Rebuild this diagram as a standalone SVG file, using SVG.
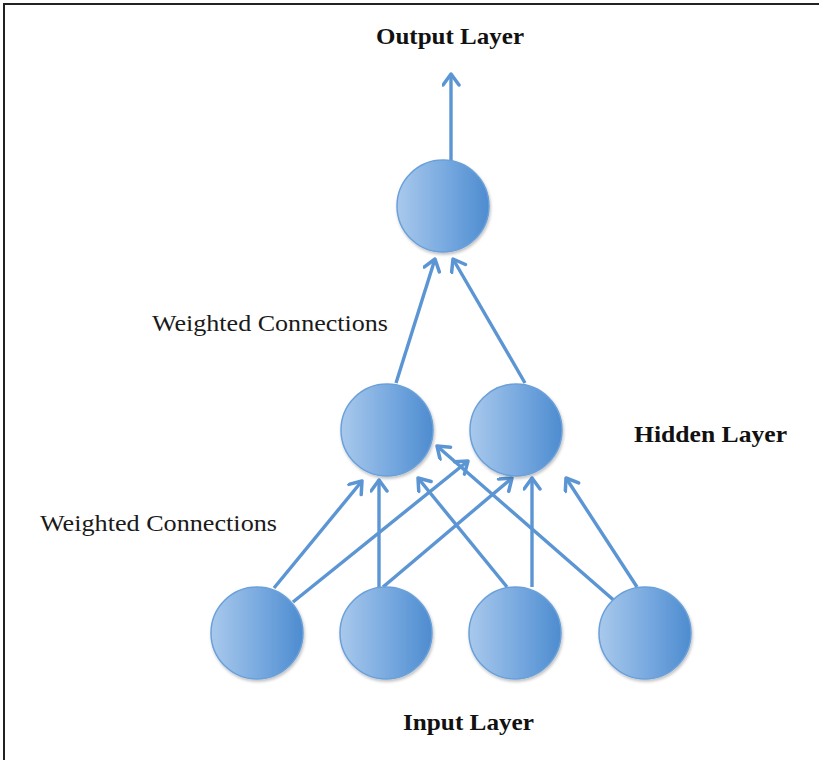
<svg xmlns="http://www.w3.org/2000/svg" width="819" height="760" viewBox="0 0 819 760">
  <defs>
    <linearGradient id="nodeFill" x1="0" y1="0" x2="1" y2="0">
      <stop offset="0" stop-color="#a9c9ec"/>
      <stop offset="0.55" stop-color="#76a8df"/>
      <stop offset="1" stop-color="#4d8ccf"/>
    </linearGradient>
    <filter id="soft" x="-20%" y="-20%" width="140%" height="140%">
      <feDropShadow dx="1" dy="2" stdDeviation="1.5" flood-color="#000" flood-opacity="0.25"/>
    </filter>
    <marker id="head" markerUnits="userSpaceOnUse" markerWidth="22" markerHeight="22" refX="13" refY="9" orient="auto">
      <path d="M2,1 L13,9 L2,17" fill="none" stroke="#5b95d3" stroke-width="3.5" stroke-linecap="round" stroke-linejoin="round"/>
    </marker>
    <style>
      .node { fill: url(#nodeFill); stroke: #6ba0da; stroke-width: 1.5; filter: url(#soft); }
      .edge { stroke: #5b95d3; stroke-width: 3.4; fill: none; marker-end: url(#head); }
      .title { font-family: "Liberation Serif", "DejaVu Serif", serif; font-weight: bold; font-size: 23px; fill: #111; }
      .note { font-family: "Liberation Serif", "DejaVu Serif", serif; font-size: 23px; fill: #1a1a1a; }
    </style>
  </defs>

  <rect width="819" height="760" fill="#fff"/>
  <!-- frame -->
  <path d="M4,760 L4,4 L819,4" fill="none" stroke="#222" stroke-width="2"/>

  <!-- connectors -->
  <g id="connectors">
    <line class="edge" x1="451" y1="160" x2="451" y2="74"/>
    <line class="edge" x1="396" y1="383" x2="435" y2="259"/>
    <line class="edge" x1="525" y1="383" x2="453" y2="259"/>
    <line class="edge" x1="274" y1="588" x2="362" y2="481"/>
    <line class="edge" x1="293" y1="602" x2="468" y2="461"/>
    <line class="edge" x1="379" y1="587" x2="379" y2="480"/>
    <line class="edge" x1="383" y1="587" x2="512" y2="478"/>
    <line class="edge" x1="507" y1="587" x2="418" y2="478"/>
    <line class="edge" x1="532" y1="587" x2="532" y2="478"/>
    <line class="edge" x1="617" y1="603" x2="437" y2="446"/>
    <line class="edge" x1="637" y1="587" x2="566" y2="478"/>
  </g>

  <!-- output layer -->
  <g id="output-node"><circle class="node" cx="443" cy="206" r="46"/></g>
  <!-- hidden layer -->
  <g id="hidden-1"><circle class="node" cx="387" cy="430" r="46"/></g>
  <g id="hidden-2"><circle class="node" cx="516" cy="430" r="46"/></g>
  <!-- input layer -->
  <g id="input-1"><circle class="node" cx="257" cy="633" r="46"/></g>
  <g id="input-2"><circle class="node" cx="386" cy="633" r="46"/></g>
  <g id="input-3"><circle class="node" cx="515" cy="633" r="46"/></g>
  <g id="input-4"><circle class="node" cx="645" cy="633" r="46"/></g>

  <!-- labels -->
  <text class="title" x="376" y="44" textLength="148" lengthAdjust="spacingAndGlyphs">Output Layer</text>
  <text class="note" x="152" y="331" textLength="236" lengthAdjust="spacingAndGlyphs">Weighted Connections</text>
  <text class="title" x="634" y="442" textLength="153" lengthAdjust="spacingAndGlyphs">Hidden Layer</text>
  <text class="note" x="40" y="531" textLength="237" lengthAdjust="spacingAndGlyphs">Weighted Connections</text>
  <text class="title" x="403" y="730" textLength="131" lengthAdjust="spacingAndGlyphs">Input Layer</text>
</svg>
